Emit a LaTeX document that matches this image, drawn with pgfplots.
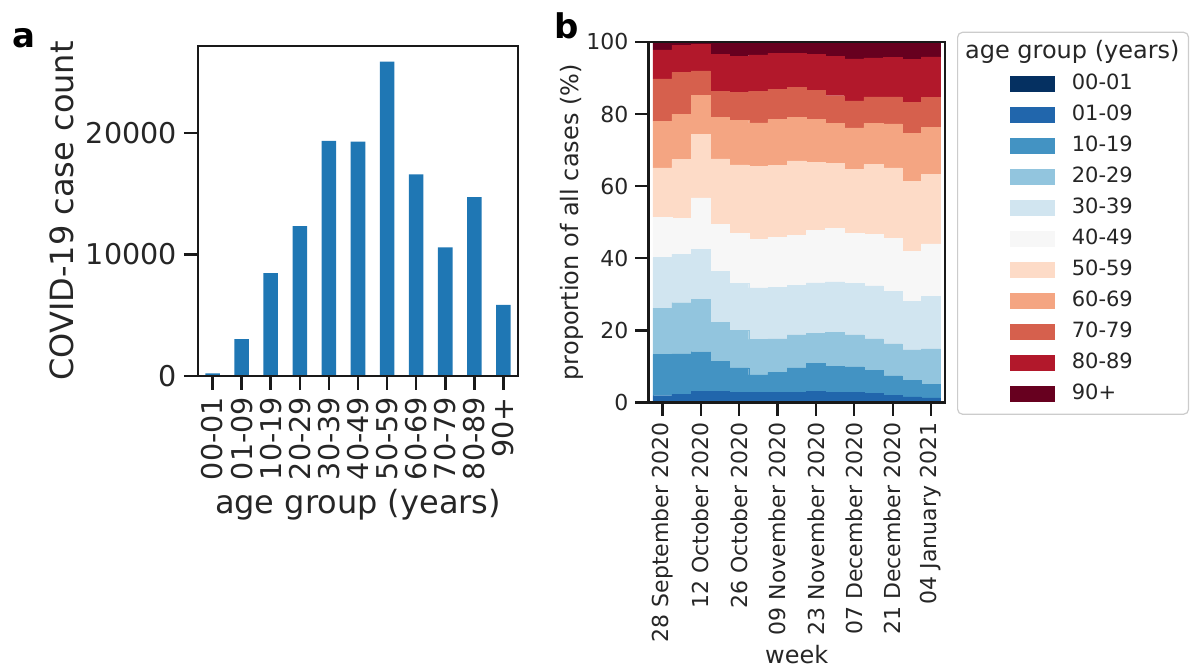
\documentclass[border=0pt]{standalone}
\usepackage{fontspec}
\setmainfont{DejaVu Sans}
\usepackage{pgfplots}
\usepackage{pgfplotstable}
\pgfplotsset{compat=1.18}

\definecolor{barblue}{HTML}{1F77B4}
\definecolor{cA}{HTML}{053061}
\definecolor{cB}{HTML}{2166AC}
\definecolor{cC}{HTML}{4393C3}
\definecolor{cD}{HTML}{92C5DE}
\definecolor{cE}{HTML}{D1E5F0}
\definecolor{cF}{HTML}{F7F7F7}
\definecolor{cG}{HTML}{FDDBC7}
\definecolor{cH}{HTML}{F4A582}
\definecolor{cI}{HTML}{D6604D}
\definecolor{cJ}{HTML}{B2182B}
\definecolor{cK}{HTML}{67001F}
\colorlet{ink}{black!85}

% total cases per age group
\pgfplotstableread{
x count
0 220
1 3030
2 8470
3 12330
4 19340
5 19290
6 25860
7 16590
8 10590
9 14720
10 5860
}\casetab

% weekly share (%) per age group, week 0 = 28 September 2020
\pgfplotstableread{
wk a0001 a0109 a1019 a2029 a3039 a4049 a5059 a6069 a7079 a8089 a90
0  0.2 1.7 11.4 12.9 14.0 11.2 13.7 12.8 11.9  8.0 2.2
1  0.2 2.0 11.3 14.2 13.5  9.9 16.3 12.6 11.6  7.5 0.9
2  0.2 2.9 11.0 14.6 13.7 14.4 17.5 10.9  6.8  7.3 0.7
3  0.2 2.9  8.3 10.9 14.1 13.0 18.2 11.5  7.3 10.2 3.4
4  0.2 2.6  6.8 10.4 13.0 14.0 18.9 12.3  7.8 10.1 3.9
5  0.2 2.6  4.9  9.8 14.3 13.5 20.2 12.1  8.7 10.1 3.6
6  0.2 2.7  5.5  9.3 14.2 13.9 20.0 12.7  8.4 10.0 3.1
7  0.2 2.7  6.7  9.2 13.8 13.8 20.6 12.1  8.3  9.5 3.1
8  0.2 2.9  7.7  8.4 14.0 14.6 18.9 11.8  8.0 10.1 3.4
9  0.2 2.6  7.3  9.3 14.1 14.8 18.0 11.2  7.6 10.9 4.0
10 0.2 2.6  7.1  8.9 14.2 13.9 17.8 11.5  7.5 11.6 4.7
11 0.2 2.3  6.5  8.7 14.7 14.3 19.3 11.4  7.4 10.8 4.4
12 0.2 1.8  5.4  8.9 14.5 14.7 19.6 12.2  7.5 10.9 4.3
13 0.2 1.4  4.6  8.4 13.4 14.0 19.4 13.3  8.5 12.0 4.8
14 0.2 1.1  3.8  9.8 14.6 14.5 19.3 13.0  8.3 11.3 4.1
}\agetab

\pgfplotsset{
  lp/.style={legend image code/.code={
    \path[draw=none, fill=none] (-22pt,0) rectangle (22pt,0.01pt);
    \fill[##1, sharp corners] (0pt,-3.6pt) rectangle (22pt,3.6pt);}},
  layer/.style={fill=#1, draw=#1, line width=0.2pt, lp},
}

\begin{document}
\begin{tikzpicture}
\path[use as bounding box] (0,0) rectangle (598pt,333.5pt);
\node[font=\fontsize{17}{20}\selectfont\bfseries] at (12pt,314.5pt) {a};
\node[font=\fontsize{17}{20}\selectfont\bfseries] at (283.5pt,320.5pt) {b};

% panel a
\begin{axis}[
  at={(99pt,145.5pt)}, anchor=south west,
  scale only axis, width=160pt, height=165pt,
  axis on top,
  ybar, bar width=0.5,
  xmin=-0.5, xmax=10.5, ymin=0, ymax=27150,
  xtick={0,...,10},
  xticklabels={00-01,01-09,10-19,20-29,30-39,40-49,50-59,60-69,70-79,80-89,90+},
  ytick={0,10000,20000},
  scaled y ticks=false,
  /pgf/number format/assume math mode=true,
  /pgf/number format/1000 sep={},
  tick align=outside, tick pos=left,
  major tick length=7pt,
  axis line style={line width=1.3pt, black!90},
  tick style={line width=1.3pt, black!90},
  tick label style={font=\fontsize{14.3}{17}\selectfont, text=ink},
  xticklabel style={rotate=90, anchor=east},
  label style={font=\fontsize{16}{19}\selectfont, text=ink},
  xlabel={age group (years)},
  ylabel={COVID-19 case count},
  xlabel style={at={(axis description cs:0.5,-0.391)}, anchor=center},
  ylabel style={at={(axis description cs:-0.425,0.5)}, anchor=center},
]
\addplot[fill=barblue, draw=none] table[x=x, y=count] {\casetab};
\end{axis}

% panel b
\begin{axis}[
  at={(324.2pt,132.2pt)}, anchor=south west,
  scale only axis, width=148.3pt, height=180.3pt,
  axis on top,
  ybar stacked, bar width=1,
  xmin=-0.73, xmax=14.73, ymin=0, ymax=100,
  xtick={0,2,...,14},
  xticklabels={28 September 2020,12 October 2020,26 October 2020,09 November 2020,23 November 2020,07 December 2020,21 December 2020,04 January 2021},
  ytick={0,20,...,100},
  /pgf/number format/assume math mode=true,
  tick align=outside, tick pos=left,
  major tick length=6.5pt,
  axis line style={line width=1.1pt, black!90},
  tick style={line width=1.1pt, black!90},
  tick label style={font=\fontsize{11}{13}\selectfont, text=ink},
  xticklabel style={rotate=90, anchor=east},
  label style={font=\fontsize{12}{14}\selectfont, text=ink},
  xlabel={week},
  ylabel={proportion of all cases (\%)},
  xlabel style={at={(axis description cs:0.5,-0.700)}, anchor=center},
  ylabel style={at={(axis description cs:-0.258,0.5)}, anchor=center},
  legend cell align=left,
  legend style={
    at={(axis description cs:1.0405,1.0286)}, anchor=north west,
    draw=black!20, line width=0.6pt, rounded corners=2.5pt, fill=white,
    inner xsep=4.5pt, inner ysep=5pt, row sep=5pt, column sep=8.5pt,
    font=\fontsize{10.5}{12}\selectfont, text=ink,
    nodes={inner sep=0pt, text height=8pt, text depth=2.5pt},
  },
]
\addlegendimage{empty legend}
\addlegendentry{\hspace*{-53.35pt}\fontsize{12}{14}\selectfont age group (years)}
\addplot[layer=cA] table[x=wk, y=a0001] {\agetab}; \addlegendentry{00-01}
\addplot[layer=cB] table[x=wk, y=a0109] {\agetab}; \addlegendentry{01-09}
\addplot[layer=cC] table[x=wk, y=a1019] {\agetab}; \addlegendentry{10-19}
\addplot[layer=cD] table[x=wk, y=a2029] {\agetab}; \addlegendentry{20-29}
\addplot[layer=cE] table[x=wk, y=a3039] {\agetab}; \addlegendentry{30-39}
\addplot[layer=cF] table[x=wk, y=a4049] {\agetab}; \addlegendentry{40-49}
\addplot[layer=cG] table[x=wk, y=a5059] {\agetab}; \addlegendentry{50-59}
\addplot[layer=cH] table[x=wk, y=a6069] {\agetab}; \addlegendentry{60-69}
\addplot[layer=cI] table[x=wk, y=a7079] {\agetab}; \addlegendentry{70-79}
\addplot[layer=cJ] table[x=wk, y=a8089] {\agetab}; \addlegendentry{80-89}
\addplot[layer=cK] table[x=wk, y=a90] {\agetab}; \addlegendentry{90+}
\end{axis}
\end{tikzpicture}
\end{document}
